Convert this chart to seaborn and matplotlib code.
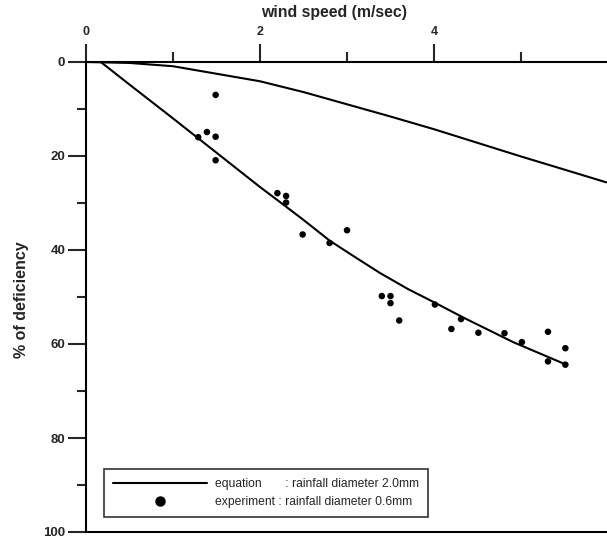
import numpy as np
import pandas as pd
import seaborn as sns
import matplotlib.pyplot as plt
from matplotlib.lines import Line2D

# equation curve (rainfall diameter 2.0mm)
eq_speed = [0.0, 0.5, 1.0, 1.5, 2.0, 2.5, 3.0, 3.5, 4.0, 4.5, 5.0, 5.5, 5.98]
eq_deficiency = [0.0, 0.2, 0.9, 2.5, 4.1, 6.4, 9.0, 11.6, 14.3, 17.2, 20.1, 22.9, 25.6]

# fitted curve through the experiment points
fit_speed = [0.17, 0.5, 1.0, 1.5, 2.0, 2.23, 2.5, 2.8, 3.1, 3.38, 3.7, 4.03, 4.34, 4.91, 5.52]
fit_deficiency = [0.0, 4.8, 12.0, 19.3, 26.6, 29.8, 33.6, 38.0, 41.6, 44.9, 48.3, 51.4, 54.4, 59.6, 64.4]

# experiment (rainfall diameter 0.6mm)
exp_speed = [1.29, 1.39, 1.49, 1.49, 1.49, 2.20, 2.30, 2.30, 2.49, 2.80, 3.00,
             3.40, 3.50, 3.50, 3.60, 4.01, 4.20, 4.31, 4.51, 4.81, 5.01,
             5.31, 5.31, 5.51, 5.51]
exp_deficiency = [16.0, 14.9, 7.0, 15.9, 20.9, 27.9, 28.5, 29.9, 36.7, 38.5, 35.8,
                  49.8, 49.8, 51.3, 55.0, 51.6, 56.8, 54.7, 57.6, 57.7, 59.6,
                  57.4, 63.7, 60.9, 64.4]

sns.set_style("white")
plt.rcParams['font.family'] = ['Liberation Sans', 'DejaVu Sans']

fig = plt.figure(figsize=(6.07, 5.38), dpi=100)
ax = fig.add_axes([86 / 607, 6 / 538, 521 / 607, 470 / 538])

eq_df = pd.DataFrame({'speed': eq_speed, 'deficiency': eq_deficiency})
fit_df = pd.DataFrame({'speed': fit_speed, 'deficiency': fit_deficiency})
exp_df = pd.DataFrame({'speed': exp_speed, 'deficiency': exp_deficiency})

sns.lineplot(data=eq_df, x='speed', y='deficiency', color='black', linewidth=1.5, ax=ax)
sns.lineplot(data=fit_df, x='speed', y='deficiency', color='black', linewidth=1.5, ax=ax)
sns.scatterplot(data=exp_df, x='speed', y='deficiency', color='black', s=22,
                edgecolor='none', ax=ax)

ax.set_xlim(0, 521 / 87)
ax.set_ylim(100, 0)

# spines: top axis, left axis and a bottom rule
for side in ['top', 'left', 'bottom']:
    ax.spines[side].set_color('black')
    ax.spines[side].set_linewidth(1.5)
ax.spines['right'].set_visible(False)

ax.xaxis.tick_top()
ax.set_xticks([0, 2, 4])
ax.set_xticks([1, 3, 5], minor=True)
ax.set_xticklabels(['0', '2', '4'])
ax.tick_params(axis='x', which='major', direction='out', length=13, width=1.5,
               pad=4, labelsize=9, bottom=False, top=True)
ax.tick_params(axis='x', which='minor', direction='out', length=7, width=1.5,
               bottom=False, top=True)

ax.set_yticks([0, 20, 40, 60, 80, 100])
ax.set_yticks([10, 30, 50, 70, 90], minor=True)
ax.tick_params(axis='y', which='major', direction='out', length=13, width=1.5,
               pad=2, labelsize=9.5, left=True)
ax.tick_params(axis='y', which='minor', direction='out', length=6.5, width=1.5,
               left=True)
for lbl in ax.get_xticklabels() + ax.get_yticklabels():
    lbl.set_fontweight('bold')

ax.xaxis.set_label_position('top')
ax.set_xlabel('wind speed (m/sec)', fontsize=11.4, fontweight='bold')
ax.xaxis.set_label_coords(0.476, 1.106)
ax.xaxis.label.set_va('center')
ax.set_ylabel('% of deficiency', fontsize=11.5, fontweight='bold')
ax.yaxis.set_label_coords(-0.123, 0.494)
ax.yaxis.label.set_va('center')

handles = [
    Line2D([], [], color='black', linewidth=1.5),
    Line2D([], [], color='black', marker='o', linestyle='none', markersize=6.5),
]
labels = ['equation       : rainfall diameter 2.0mm',
          'experiment : rainfall diameter 0.6mm']
leg = ax.legend(handles, labels, loc='lower left', bbox_to_anchor=(0.0345, 0.032),
                fontsize=8.7, frameon=True, fancybox=False, handlelength=7.8,
                borderpad=0.75, labelspacing=0.5, handletextpad=0.6,
                borderaxespad=0)
leg.get_frame().set_edgecolor('black')
leg.get_frame().set_linewidth(1.2)

fig.savefig('out.png', dpi=100)
